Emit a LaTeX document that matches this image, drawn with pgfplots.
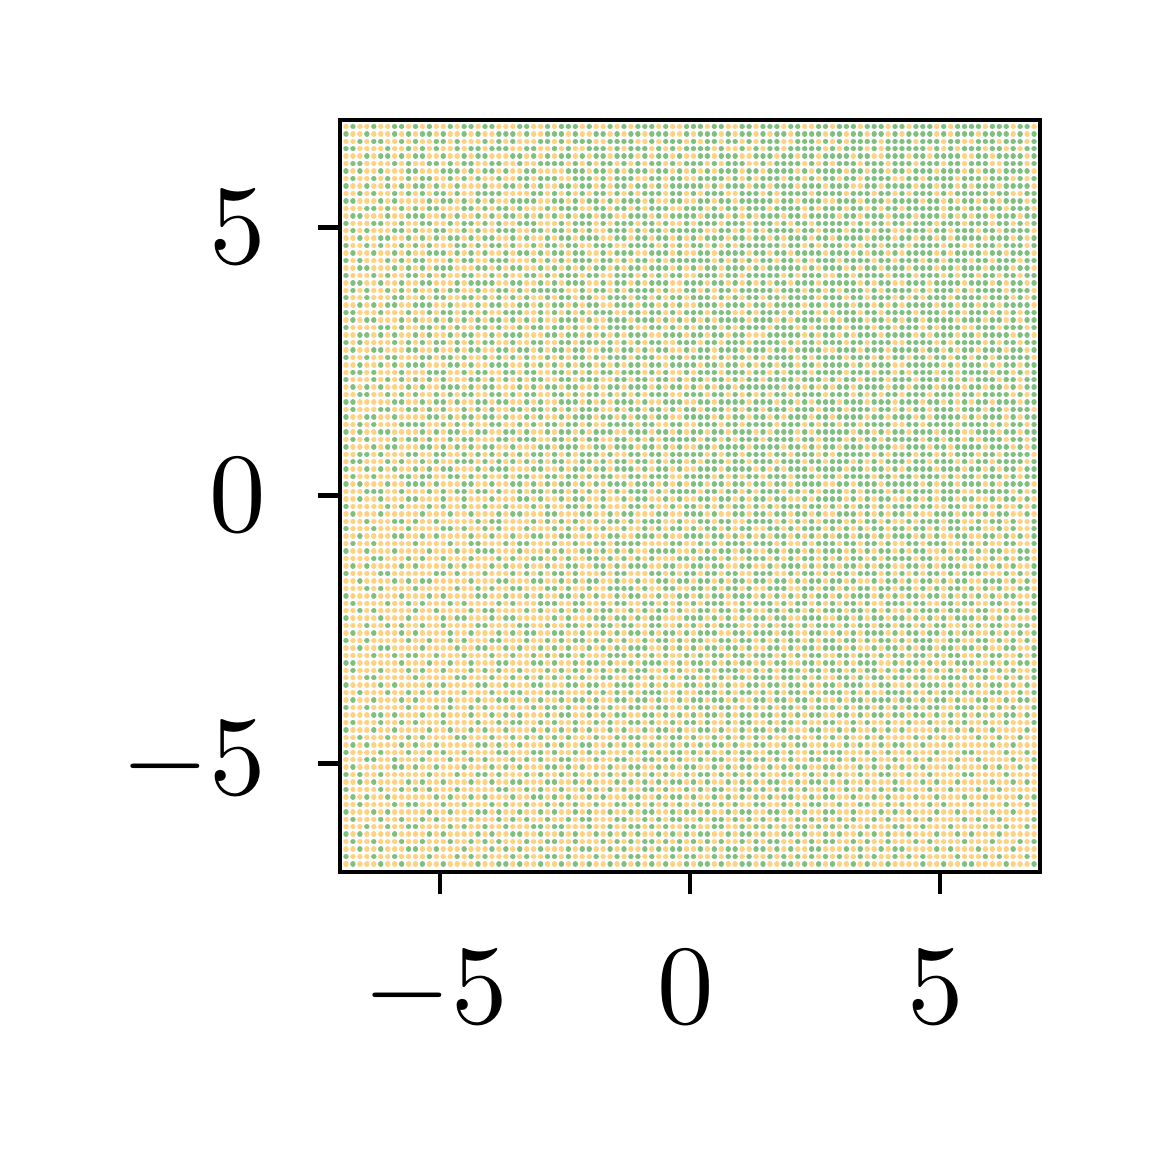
\RequirePackage{fix-cm}
\documentclass[border=0pt]{standalone}
\usepackage{pgfplots}
\pgfplotsset{compat=1.18}
\definecolor{dgreen}{RGB}{127,191,127}
\definecolor{dorange}{RGB}{255,209,128}
% a light mark: a very short stroke with round caps, drawn as a dot
\pgfdeclareplotmark{dot}{%
  \pgfpathmoveto{\pgfqpoint{-0.005pt}{0pt}}%
  \pgfpathlineto{\pgfqpoint{0.005pt}{0pt}}%
  \pgfusepathqstroke}
\pgfplotsset{
  gdot/.style={only marks, mark=dot, color=dgreen, mark options={line width=1.36pt, line cap=round}},
  odot/.style={only marks, mark=dot, color=dorange, mark options={line width=1.36pt, line cap=round}},
  base/.style={
    at={(0,0)}, anchor=south west, scale only axis,
    width=175pt, height=188pt,
    xmin=-7, xmax=7, ymin=-7.03, ymax=7.0,
    x filter/.expression={-6.88+0.139*x},
    y filter/.expression={6.88-0.139*y},
  },
  dots/.style={base, hide axis},
}
% one row of the 100x100 grid per \gridrow, top row first; 1 = green, 0 = orange
% the grid is split over ten overlaid axes, or TeX runs out of memory
\newcount\colidx
\newcount\rowidx
\def\bitloop#1{%
  \ifx\relax#1\else
    \if1#1\xdef\rowg{\rowg(\the\colidx,\the\rowidx)}%
    \else\xdef\rowo{\rowo(\the\colidx,\the\rowidx)}\fi
    \advance\colidx by 1
    \expandafter\bitloop
  \fi}
\newcommand\gridrow[1]{%
  \gdef\rowg{}\gdef\rowo{}\colidx=0
  \bitloop#1\relax
  \edef\doplots{\noexpand\addplot[gdot] coordinates {\rowg};
    \noexpand\addplot[odot] coordinates {\rowo};}%
  \doplots
  \global\advance\rowidx by 1 }
\begin{document}
\begin{tikzpicture}
\path[use as bounding box] (-85pt,-72pt) rectangle (205pt,218pt);
\begin{axis}[dots]
\gridrow{0100100110 1010010110 1100011001 0111010010 1011101001 1101100110 1110110011 0111011101 1011101011 1101110110}
\gridrow{1001000101 0110100101 0011101001 1101001101 0110111001 0111010110 1011011110 1101101101 0111101011 1011110101}
\gridrow{0010110010 1001101000 1010100011 0101110011 1100101110 1011011010 1110011101 0101111011 1101110110 0111011101}
\gridrow{1100001001 0101001011 0111001100 1010011101 0111010101 1110100101 0110111110 1011101011 1111010101 1101101011}
\gridrow{0001011010 1100100101 1000110101 0110101101 1101011010 0110111001 1101101101 1110110011 1011011110 0110111101}
\gridrow{0110000101 0011010110 0110010011 1101010110 1010110101 1101011100 1011110101 0111011101 1101110110 1110011101}
\gridrow{1010010001 1000111010 1101001100 0011101101 0111011010 1010111011 0111101011 1101101101 1011101110 1011011110}
\gridrow{0100101001 0110010101 0010011011 1001110101 1100110110 0111101010 1110110101 1011011110 0110111101 1101110101}
\gridrow{1001001010 1101001000 1001101010 0110110101 1011010111 1101011101 1011101110 1110011011 1101101101 0111011110}
\gridrow{0010100101 0101101001 1110000110 1010101101 0101110110 1011100111 0101111011 1101110110 1011101011 1110110011}
\end{axis}
\begin{axis}[dots]
\gridrow{1100010100 0010110101 0100111100 1101011010 1110100110 0110110111 1101101110 0111011101 1110110101 1011011101}
\gridrow{0001101010 1011000110 1011010001 0111001101 1010111001 1101011011 1011110101 1101101011 0111110110 1101101110}
\gridrow{0110001001 1100101001 0101101010 1010110110 0111010111 1011101010 1110110111 1011011101 1101110101 0110111011}
\gridrow{1000110010 0110010110 1010011100 0101110101 1101101001 0111011101 1101011011 1110101101 1011101110 1110110101}
\gridrow{0101000110 1001100101 0011100110 1101010011 1010110111 1100110101 0111101101 1101110110 0111011011 1011011110}
\gridrow{0010011001 0101011010 1100101001 0110111001 1011011010 1011101101 1010111011 0111101110 1101101011 1101110101}
\gridrow{1001010010 1010001101 0110100101 1011001110 0111101010 1101010111 1110110101 1101011011 1011110110 0111011101}
\gridrow{0100100101 0011101010 1001011010 1101100101 1100111010 0110111101 1011011110 1110101101 0111101011 1101101110}
\gridrow{1010001010 1100010110 0111000101 0101110110 1011010111 1110101010 1101101011 1011110110 1110110111 0110111011}
\gridrow{0011000101 0101110001 1010110010 1010101101 0110111010 1011011101 0111110101 1101011011 1011101101 1101110110}
\end{axis}
\begin{axis}[dots]
\gridrow{1000101001 1010100110 0101001101 0111011001 1101010110 0111011011 1110101110 0110111101 1101110101 1011011011}
\gridrow{0110010010 0110001011 1100110010 1011100101 1010111001 1101101010 1011011101 1111010110 0111011110 1110101101}
\gridrow{0101001010 1001011001 0011010111 1100101101 0111101001 1010110111 1101110110 1011101011 1101011101 0111101110}
\gridrow{1001000110 0101100110 1010101001 0110110011 1011010110 1110101011 0110111101 1101101110 1010111011 1101110101}
\gridrow{0010101100 1110010001 0110011010 1101011001 1101101010 0111011101 1011110110 1110110101 0111101101 1011011110}
\gridrow{1100010001 0010110110 1001110010 1010101110 0110110101 1101110010 1110101101 0111011011 1101110110 1110101011}
\gridrow{0101100010 1001010101 0110101010 0111010011 1011101010 1010111101 1101011110 1011101101 0110111101 1101101011}
\gridrow{1000011010 0110101001 1010010110 1101001011 1100110101 0111010111 1011101011 1101110110 1110101110 0111011101}
\gridrow{0011010100 1010010110 0101110001 1011010101 0111001110 1101101100 0111110101 1010111011 1101011101 1011110110}
\gridrow{1010000101 0101101010 1100100110 0110111010 1010110011 1011011101 1110101101 1101101110 0111101011 1101011011}
\end{axis}
\begin{axis}[dots]
\gridrow{0100110001 1001001011 0011011010 1101100110 1101011001 0110111011 1011011110 0111011101 1110110101 1011101101}
\gridrow{1001001100 0110110100 1010101001 0101101011 1011100110 1110101101 0111101011 1101110101 1011011011 0110111110}
\gridrow{0010010101 1100011010 0111001010 1010110101 0110110111 1011011010 1101101101 1110101110 0111110101 1101011011}
\gridrow{0110100010 0011100101 1001101100 1101010110 1110101001 0111011101 1010111011 1101110110 1011101101 1110110101}
\gridrow{1000101010 1010100011 0101010110 0110111001 1011011010 1101101011 0111101110 1011011101 1101110101 0111011011}
\gridrow{0101010001 0100111010 1100010101 1011001011 0111010110 1010110111 1110110101 0110111101 1011101110 1101101011}
\gridrow{0011001010 1001010110 0110101100 1101011010 1010111001 1101101010 1011011110 1110101011 0111011101 1011110101}
\gridrow{1100000110 0101101001 1011001010 0111010101 1101001110 0110111101 1101101011 1011101110 1110110101 0110111011}
\gridrow{0100011001 1010100101 0100110110 1010111001 0110110101 1011101011 0111011101 1101110110 1011011101 1101101110}
\gridrow{1001100100 0011010110 1101001010 0101110110 1011011001 1110101101 1010111011 0111101101 1101011110 1011101011}
\end{axis}
\begin{axis}[dots]
\gridrow{0010100011 1100101010 0110010101 1011010011 1101100110 0111011011 1101110101 1011011110 0110111101 1110101101}
\gridrow{1010011000 0101011001 1001101001 0110101110 0111011010 1101101110 1011101011 1110110101 1011101110 0111011011}
\gridrow{0101000101 1010010110 0011011100 1101011001 1010101111 1011010111 0111101101 1101011011 1110110110 1011101101}
\gridrow{1000101100 0110101010 1100100011 0111001101 1101101010 0110111101 1110110101 1011101110 0111011011 1101110101}
\gridrow{0011010001 1001100101 0101010110 1010111010 0110110111 1101011011 1011011101 0111110101 1101101011 1011011110}
\gridrow{0110001010 0101001110 1010101010 1100110101 1011010110 1011101101 1101110110 1110101011 1011011101 0110111101}
\gridrow{1001010100 1010110001 0111000110 0101101101 1101011010 0111011110 1010111011 1101101101 0111101110 1101011011}
\gridrow{0100100011 0110011010 1001011001 1011010110 0110111001 1110101011 0111011101 1011110110 1101110101 1011101011}
\gridrow{1010001001 1101000110 0100110101 0110101011 1011101010 1101101101 1011011110 0110111011 1110101101 1101011110}
\gridrow{0001110010 0010101101 1010010110 1101010101 0111010111 1011011010 1110110101 1101011101 1011101110 0111110101}
\end{axis}
\begin{axis}[dots]
\gridrow{0010010001 1000100100 0100011010 0101100100 1011001010 0110110101 1011001011 1101010110 0110101101 1001011010}
\gridrow{1000001010 0010100100 1001000101 0011010100 0110100101 1010101101 0101110110 1010110101 1101100110 0110100101}
\gridrow{0100010000 0100010010 0010110001 1000110010 1100011001 1101001101 1011011010 0111010101 1010011101 1010110010}
\gridrow{0001000110 1001000001 0110000101 0101001011 0101110010 0110110011 1101010101 1101011010 0101110110 0101101001}
\gridrow{1000100001 0000110100 1010001000 1010100100 1001010110 1011010110 0110101110 1010101101 1011010110 1100101001}
\gridrow{0010000110 0101000010 0100100110 0110010011 0011101001 1101101010 1011010101 0110110101 1101010011 0011010101}
\gridrow{0100100000 1000010011 0001011000 1001001101 1110000110 0101011101 1101001011 1011011010 0110111001 1010011001}
\gridrow{1001000100 0010001001 1100010001 0100110101 0100111100 1010110110 0110110101 1101010110 1011001011 0101100110}
\gridrow{0000110001 0100100010 0010100110 1010011010 1010100011 0111010011 1010101101 0101101011 1101100101 1001010110}
\gridrow{0101000010 1000010100 0101001001 0011001101 0111001100 1101100110 0101110101 1011010110 0110101110 0110101001}
\end{axis}
\begin{axis}[dots]
\gridrow{1000011000 0001101000 1000101010 1101000101 1000110101 1011011001 1100101101 0110111010 1010110101 1100010101}
\gridrow{0010000101 0110000010 0011000110 0101011001 0010011011 0110101101 1011010110 1101001011 0101101011 0011101010}
\gridrow{0001010000 1000001001 0100110001 1010010011 1101001100 1101011010 0111001101 1010110110 1101010110 1010100110}
\gridrow{1000100010 0010100001 1001001010 0110101001 0110010011 0101101110 1010101011 0101110101 0110110101 0101011001}
\gridrow{0100001001 0100010100 0010100011 1001100101 1001101010 1011100101 1101011010 1011010011 1011001101 1001100101}
\gridrow{0010100000 1001000010 1100001010 0101010110 0101011010 0110110110 0110110101 1101101010 0101110110 0110010110}
\gridrow{1000010001 0000101100 0101100000 1010001101 1010110001 1101010101 1011001110 0110101101 1010101011 1010101001}
\gridrow{0001001010 0100100001 1000011001 0011010110 1100110010 1010111001 0101101011 1010110110 1101011001 0101100110}
\gridrow{0100100010 1000010010 0010101100 1100100101 0110101101 0111001101 1101100110 0101011101 0110110101 1001010101}
\gridrow{1001000001 0010010100 0110001001 0101101010 1001011010 1100110110 1010110101 1011010110 1011100110 0110101010}
\end{axis}
\begin{axis}[dots]
\gridrow{0010011000 0100001001 1001010010 1010010101 0111001010 1011011010 0110101101 1101001011 0101101101 1010011001}
\gridrow{0000100101 1001000100 0100100101 0110100011 1010101001 0101101101 1101010110 0110110101 1011010110 0101100101}
\gridrow{1100000010 0010010010 0011000110 1001011010 0101110010 1101010110 1011001101 1010111001 0110101011 1001010110}
\gridrow{0100010001 0100100010 1010010001 0101010101 1011001010 0110111001 0101110110 1101011010 1101010101 0110101001}
\gridrow{0001100000 1000001100 0100101010 1010100110 0110100101 1010101101 1101101010 0110101101 1011001110 1010010101}
\gridrow{1000010100 0010100001 1001000110 0011011001 1100101001 1011010011 0110110101 1011100110 0101110101 0101101010}
\gridrow{0010001001 0101000100 0100110001 1100010101 0101110010 0111010110 1010110101 1101010011 1010101101 1001100101}
\gridrow{0100100010 1000010001 0011001010 0101101001 1011010010 1101101001 1011011010 0101101110 1101011010 0110010110}
\gridrow{1001000001 0001010010 1000100101 1010011010 0110011001 0110110101 0101101011 1010110101 0110110011 1010101001}
\gridrow{0000110100 0100100010 0101010001 0110010101 1001101010 1011010110 1101010110 0110101101 1011010101 0101011010}
\end{axis}
\begin{axis}[dots]
\gridrow{0100010010 1000100001 0010110010 1001001010 0110100101 1010010110 0101101001 1001010010 0100100101 0010010001}
\gridrow{1000100100 0010010010 1001000101 0101010010 1001011010 0110100101 1011000110 0101001010 1000010010 1001000010}
\gridrow{0010001001 0100001100 0100101010 1010001001 0110010110 1001010101 0100110010 1010010100 0010101000 0100100100}
\gridrow{0101000010 1001000001 1010010001 0100110010 1010100101 0101101001 1001011001 0010100101 1001000100 0001001000}
\gridrow{1000010001 0010100100 0011000110 1001010100 0101010110 1010010110 0110100101 1100010010 0100010001 1000010010}
\gridrow{0001100100 0100010010 1000101010 0110001001 1001101010 0101100101 1010100110 0101001001 0010100010 0100001001}
\gridrow{0100000110 1001000100 0101010001 1010100010 0110010101 1001010110 0101011001 1000101010 1001000100 0010100100}
\gridrow{1010010000 0010001001 1010001010 0101001010 1010101001 0110101010 1001100101 0100100110 0100100001 1000010000}
\gridrow{0010100001 0100100010 0100110001 1001010001 0101010110 1010010101 0110010110 1010010001 0001010010 0001001010}
\gridrow{1000010010 1010001000 0011001010 0100101010 1001101001 0101100110 1010101001 0010100101 1000100100 0100100000}
\end{axis}
\begin{axis}[dots]
\gridrow{0101001000 0001010010 1000100110 1010010100 0110010110 1001010101 0101100101 1001001010 0010010001 0010000101}
\gridrow{0010000101 1000100100 0101001001 0101001001 1010101010 0110101001 1001010110 0100110010 1000101000 1000010010}
\gridrow{1000101000 0010010001 1010010010 1001010010 0101100101 1010010110 0110101001 1001000101 0100010010 0001001000}
\gridrow{0100010010 0101000010 0010101001 0010110001 1001010110 0101101010 1010010101 0101001010 0010100001 0100100001}
\gridrow{0001001001 1000010100 1001000110 1100010010 0110101001 1001100101 0101011010 1010010001 1001000100 0010010010}
\gridrow{1010000100 0010100001 0100110010 0101001010 1010010101 0110010110 1001101001 0100101010 0100010010 1000100000}
\gridrow{0100100010 0100010010 1010001001 1001000101 0101101010 1010100101 0110010101 1001010010 0010100001 0001000101}
\gridrow{0010010001 1001000100 0101010010 0010110010 1001010110 0101011001 1010100110 0010100101 1000010100 0100001000}
\gridrow{1000100100 0010001010 1000101001 1010001001 0110100101 1001011010 0101010101 0100101001 0101000010 0010100010}
\gridrow{0100010010 0100100001 0011010010 0101010010 1010101001 0110100110 1001101010 1001010010 0001001001 1000010001}
\end{axis}
% frame, ticks and tick labels on top of the dots
\begin{axis}[base,
  xtick={-5,0,5}, ytick={-5,0,5},
  tick pos=left, tick align=outside, major tick length=5.5pt,
  tick style={line width=1.2pt, black},
  axis line style={line width=1.2pt},
  xticklabel style={font=\fontsize{10}{12}\selectfont, xshift=-1pt, yshift=-4.2pt, scale=2.82},
  yticklabel style={font=\fontsize{10}{12}\selectfont, xshift=-3pt, scale=2.82},
]
\end{axis}
\end{tikzpicture}
\end{document}
